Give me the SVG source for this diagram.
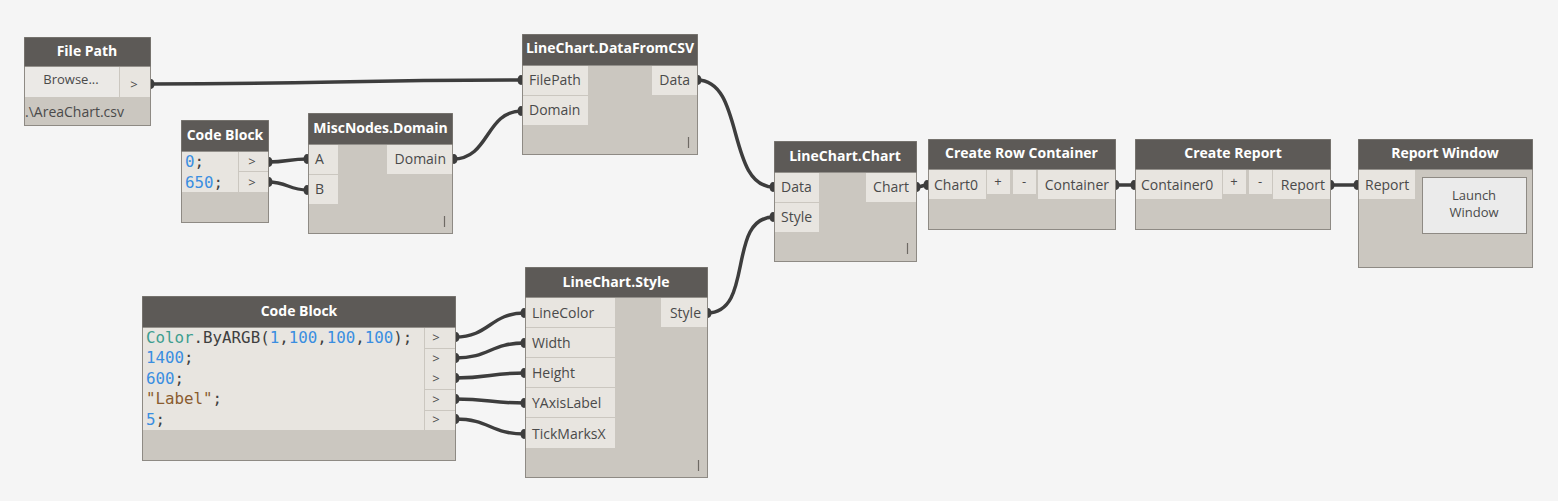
<svg xmlns="http://www.w3.org/2000/svg" width="1558" height="501" viewBox="0 0 1558 501">
<style>
.bg{fill:#f5f5f5}
.body{fill:#cbc7c0;stroke:#8e8a84;stroke-width:1}
.hdr{fill:#5d5a57}
.port{fill:#e8e5e0}
.h{font-family:"Open Sans","Noto Sans",sans-serif;font-size:14px;font-weight:bold;fill:#ffffff;text-anchor:middle}
.t{font-family:"Open Sans","Noto Sans",sans-serif;font-size:14px;fill:#4a4a4a}
.e{text-anchor:end}
.m{text-anchor:middle}
.s{font-size:13px}
.code{font-family:"DejaVu Sans Mono","Liberation Mono",monospace;font-size:15.8px;fill:#3f3f3f}
.num{fill:#3a8ee0}
.cls{fill:#3c9d8f}
.str{fill:#8a5c30}
.lace{stroke:#6e6a64;stroke-width:1.2}
.wire{fill:none;stroke:#3d3d3d;stroke-width:3.5}
.nub{fill:#3d3d3d}
</style>
<rect class="bg" x="0" y="0" width="1558" height="501"/>

<g id="connectors">
<path class="wire" d="M150,84 C330,84 340,80 522,80"/>
<path class="wire" d="M268,162 C288,162 288,159 308,159"/>
<path class="wire" d="M268,182 C288,182 288,190 308,190"/>
<path class="wire" d="M453,159 C490,159 485,111 522,111"/>
<path class="wire" d="M697,80 C745,80 726,187 774,187"/>
<path class="wire" d="M707,313 C755,313 726,217 774,217"/>
<path class="wire" d="M916,187 C922,187 922,185 928,185"/>
<path class="wire" d="M1115,185 L1135,185"/>
<path class="wire" d="M1330,185 L1358,185"/>
<path class="wire" d="M455,337 C490,337 490,313 525,313"/>
<path class="wire" d="M455,358 C490,358 490,343 525,343"/>
<path class="wire" d="M455,378 C490,378 490,373 525,373"/>
<path class="wire" d="M455,399 C490,399 490,403 525,403"/>
<path class="wire" d="M455,419 C490,419 490,434 525,434"/>
<g class="nub">
<ellipse cx="151" cy="84" rx="3.5" ry="5"/>
<ellipse cx="521" cy="80" rx="3.5" ry="5"/>
<ellipse cx="269" cy="162" rx="3.5" ry="5"/>
<ellipse cx="269" cy="182" rx="3.5" ry="5"/>
<ellipse cx="307" cy="159" rx="3.5" ry="5"/>
<ellipse cx="307" cy="190" rx="3.5" ry="5"/>
<ellipse cx="454" cy="159" rx="3.5" ry="5"/>
<ellipse cx="521" cy="111" rx="3.5" ry="5"/>
<ellipse cx="698" cy="80" rx="3.5" ry="5"/>
<ellipse cx="773" cy="187" rx="3.5" ry="5"/>
<ellipse cx="708" cy="313" rx="3.5" ry="5"/>
<ellipse cx="773" cy="217" rx="3.5" ry="5"/>
<ellipse cx="917" cy="187" rx="3.5" ry="5"/>
<ellipse cx="927" cy="185" rx="3.5" ry="5"/>
<ellipse cx="1116" cy="185" rx="3.5" ry="5"/>
<ellipse cx="1134" cy="185" rx="3.5" ry="5"/>
<ellipse cx="1331" cy="185" rx="3.5" ry="5"/>
<ellipse cx="1357" cy="185" rx="3.5" ry="5"/>
<ellipse cx="456" cy="337" rx="3.5" ry="5"/>
<ellipse cx="456" cy="358" rx="3.5" ry="5"/>
<ellipse cx="456" cy="378" rx="3.5" ry="5"/>
<ellipse cx="456" cy="399" rx="3.5" ry="5"/>
<ellipse cx="456" cy="419" rx="3.5" ry="5"/>
<ellipse cx="524" cy="313" rx="3.5" ry="5"/>
<ellipse cx="524" cy="343" rx="3.5" ry="5"/>
<ellipse cx="524" cy="373" rx="3.5" ry="5"/>
<ellipse cx="524" cy="403" rx="3.5" ry="5"/>
<ellipse cx="524" cy="434" rx="3.5" ry="5"/>
</g>
</g>

<g id="file-path">
<rect class="body" x="24.5" y="37.5" width="126" height="88"/>
<rect class="hdr" x="24.5" y="37.5" width="126" height="29"/>
<text class="h" x="87" y="56">File Path</text>
<rect x="25" y="67" width="94" height="30" fill="#ebe9e6"/>
<rect class="port" x="120" y="67" width="30" height="30"/>
<text class="t m s" x="71" y="84" fill="#222">Browse...</text>
<text class="t m s" x="134" y="89">&gt;</text>
<text class="t" x="25" y="117" fill="#222">.\AreaChart.csv</text>
</g>

<g id="code-block-1">
<rect class="body" x="181.5" y="120.5" width="87" height="102"/>
<rect class="hdr" x="181.5" y="120.5" width="87" height="31"/>
<text class="h" x="225" y="140">Code Block</text>
<rect class="port" x="182" y="152" width="56" height="40"/>
<rect class="port" x="239" y="152" width="29" height="19"/>
<rect class="port" x="239" y="172" width="29" height="20"/>
<text class="code num" x="185" y="167">0<tspan fill="#3f3f3f">;</tspan></text>
<text class="code num" x="185" y="188">650<tspan fill="#3f3f3f">;</tspan></text>
<text class="t m s" x="252" y="166">&gt;</text>
<text class="t m s" x="252" y="187">&gt;</text>
</g>

<g id="misc-domain">
<rect class="body" x="308.5" y="113.5" width="144" height="120"/>
<rect class="hdr" x="308.5" y="113.5" width="144" height="31"/>
<text class="h" x="380.5" y="133">MiscNodes.Domain</text>
<rect class="port" x="309" y="145" width="29" height="29"/>
<rect class="port" x="309" y="175" width="29" height="29"/>
<rect class="port" x="387" y="145" width="65" height="29"/>
<text class="t" x="315" y="164">A</text>
<text class="t" x="315" y="194">B</text>
<text class="t e" x="446" y="164">Domain</text>
<line class="lace" x1="444.5" y1="216" x2="444.5" y2="227"/>
</g>

<g id="datafromcsv">
<rect class="body" x="522.5" y="34.5" width="175" height="120"/>
<rect class="hdr" x="522.5" y="34.5" width="175" height="31"/>
<text class="h" x="610" y="53">LineChart.DataFromCSV</text>
<rect class="port" x="523" y="66" width="65" height="29"/>
<rect class="port" x="523" y="96" width="65" height="29"/>
<rect class="port" x="652" y="66" width="45" height="29"/>
<text class="t" x="529" y="85">FilePath</text>
<text class="t" x="529" y="115">Domain</text>
<text class="t e" x="690" y="85">Data</text>
<line class="lace" x1="688.5" y1="137" x2="688.5" y2="148"/>
</g>

<g id="linechart-chart">
<rect class="body" x="774.5" y="141.5" width="142" height="120"/>
<rect class="hdr" x="774.5" y="141.5" width="142" height="31"/>
<text class="h" x="845" y="161">LineChart.Chart</text>
<rect class="port" x="775" y="173" width="44" height="29"/>
<rect class="port" x="775" y="203" width="44" height="29"/>
<rect class="port" x="866" y="173" width="50" height="29"/>
<text class="t" x="781" y="192">Data</text>
<text class="t" x="781" y="222">Style</text>
<text class="t e" x="909" y="192">Chart</text>
<line class="lace" x1="907.5" y1="243" x2="907.5" y2="254"/>
</g>

<g id="create-row-container">
<rect class="body" x="928.5" y="139.5" width="187" height="90"/>
<rect class="hdr" x="928.5" y="139.5" width="187" height="30"/>
<text class="h" x="1021.5" y="158">Create Row Container</text>
<rect class="port" x="929" y="170" width="57" height="29"/>
<rect class="port" x="987" y="170" width="23" height="24"/>
<rect class="port" x="1013" y="170" width="23" height="24"/>
<rect class="port" x="1038" y="170" width="77" height="29"/>
<text class="t" x="934" y="190">Chart0</text>
<text class="t m s" x="998" y="186" fill="#222">+</text>
<text class="t m s" x="1024" y="186" fill="#222">-</text>
<text class="t e" x="1109" y="190">Container</text>
</g>

<g id="create-report">
<rect class="body" x="1135.5" y="139.5" width="195" height="90"/>
<rect class="hdr" x="1135.5" y="139.5" width="195" height="30"/>
<text class="h" x="1233" y="158">Create Report</text>
<rect class="port" x="1136" y="170" width="86" height="29"/>
<rect class="port" x="1223" y="170" width="23" height="24"/>
<rect class="port" x="1249" y="170" width="23" height="24"/>
<rect class="port" x="1273" y="170" width="57" height="29"/>
<text class="t" x="1141" y="190">Container0</text>
<text class="t m s" x="1234" y="186" fill="#222">+</text>
<text class="t m s" x="1260" y="186" fill="#222">-</text>
<text class="t e" x="1325" y="190">Report</text>
</g>

<g id="report-window">
<rect class="body" x="1358.5" y="139.5" width="174" height="128"/>
<rect class="hdr" x="1358.5" y="139.5" width="174" height="30"/>
<text class="h" x="1445" y="158">Report Window</text>
<rect class="port" x="1359" y="170" width="56" height="29"/>
<text class="t" x="1365" y="190">Report</text>
<rect x="1422.5" y="177.5" width="104" height="56" fill="#ebebeb" stroke="#8e8a84"/>
<text class="t m s" x="1474" y="200" fill="#222">Launch</text>
<text class="t m s" x="1474" y="217" fill="#222">Window</text>
</g>

<g id="code-block-2">
<rect class="body" x="142.5" y="296.5" width="313" height="164"/>
<rect class="hdr" x="142.5" y="296.5" width="313" height="31"/>
<text class="h" x="299" y="316">Code Block</text>
<rect class="port" x="143" y="328" width="281" height="102"/>
<rect class="port" x="425" y="328" width="30" height="20"/>
<rect class="port" x="425" y="349" width="30" height="20"/>
<rect class="port" x="425" y="369" width="30" height="20"/>
<rect class="port" x="425" y="390" width="30" height="20"/>
<rect class="port" x="425" y="411" width="30" height="19"/>
<text class="code" x="146" y="343"><tspan class="cls">Color</tspan>.ByARGB(<tspan class="num">1</tspan>,<tspan class="num">100</tspan>,<tspan class="num">100</tspan>,<tspan class="num">100</tspan>);</text>
<text class="code" x="146" y="363"><tspan class="num">1400</tspan>;</text>
<text class="code" x="146" y="384"><tspan class="num">600</tspan>;</text>
<text class="code" x="146" y="404"><tspan class="str">"Label"</tspan>;</text>
<text class="code" x="146" y="425"><tspan class="num">5</tspan>;</text>
<text class="t m s" x="436" y="342">&gt;</text>
<text class="t m s" x="436" y="363">&gt;</text>
<text class="t m s" x="436" y="383">&gt;</text>
<text class="t m s" x="436" y="404">&gt;</text>
<text class="t m s" x="436" y="424">&gt;</text>
</g>

<g id="linechart-style">
<rect class="body" x="525.5" y="267.5" width="182" height="210"/>
<rect class="hdr" x="525.5" y="267.5" width="182" height="30"/>
<text class="h" x="616" y="287">LineChart.Style</text>
<rect class="port" x="526" y="298" width="89" height="29"/>
<rect class="port" x="526" y="328" width="89" height="29"/>
<rect class="port" x="526" y="358" width="89" height="29"/>
<rect class="port" x="526" y="388" width="89" height="29"/>
<rect class="port" x="526" y="418" width="89" height="30"/>
<rect class="port" x="661" y="298" width="46" height="29"/>
<text class="t" x="532" y="318">LineColor</text>
<text class="t" x="532" y="348">Width</text>
<text class="t" x="532" y="378">Height</text>
<text class="t" x="532" y="408">YAxisLabel</text>
<text class="t" x="532" y="439">TickMarksX</text>
<text class="t e" x="701" y="318">Style</text>
<line class="lace" x1="698.5" y1="460" x2="698.5" y2="471"/>
</g>
</svg>
